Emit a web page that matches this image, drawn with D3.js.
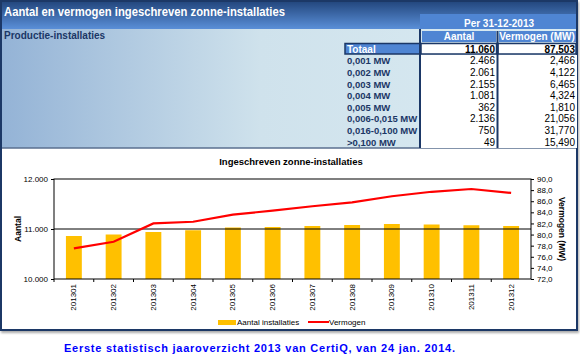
<!DOCTYPE html>
<html>
<head>
<meta charset="utf-8">
<script src="https://cdn.jsdelivr.net/npm/d3@7"></script>
<style>
  body { margin: 0; background: #fff; }
  text { font-family: "Liberation Sans", Arial, sans-serif; }
</style>
</head>
<body>
<div class="chart"></div>
<script>
// table data
var tableLabels = ["0,001 MW", "0,002 MW", "0,003 MW", "0,004 MW", "0,005 MW", "0,006-0,015 MW", "0,016-0,100 MW", ">0,100 MW"];
var tableAantal = ["2.466", "2.061", "2.155", "1.081", "362", "2.136", "750", "49"];
var tableVermogen = ["2,466", "4,122", "6,465", "4,324", "1,810", "21,056", "31,770", "15,490"];
var totalAantal = "11.060";
var totalVermogen = "87,503";

// chart data
var months = ["201301", "201302", "201303", "201304", "201305", "201306", "201307", "201308", "201309", "201310", "201311", "201312"];
var aantal = [10860, 10890, 10940, 10975, 11030, 11040, 11060, 11080, 11100, 11090, 11075, 11060];
var vermogen = [77.5, 78.7, 82.0, 82.3, 83.6, 84.3, 85.1, 85.8, 86.9, 87.7, 88.2, 87.5];
var leftTicks = [10000, 11000, 12000];
var rightTicks = [72, 74, 76, 78, 80, 82, 84, 86, 88, 90];

var navy = "#1b3766";
var svgWidth = 580, svgHeight = 360;

var svg = d3.select(".chart")
  .append("svg")
  .attr("width", svgWidth)
  .attr("height", svgHeight);

var defs = svg.append("defs");
var g1 = defs.append("linearGradient").attr("id", "titleGrad").attr("x1", 0).attr("y1", 0).attr("x2", 0).attr("y2", 1);
g1.append("stop").attr("offset", "0%").attr("stop-color", "#24487f");
g1.append("stop").attr("offset", "100%").attr("stop-color", "#5a8fd8");
var g2 = defs.append("linearGradient").attr("id", "bodyGrad").attr("x1", 0).attr("y1", 0).attr("x2", 1).attr("y2", 0);
g2.append("stop").attr("offset", "0%").attr("stop-color", "#94b3d6");
g2.append("stop").attr("offset", "45%").attr("stop-color", "#cfe2ec");
g2.append("stop").attr("offset", "100%").attr("stop-color", "#daebf2");
var sh = defs.append("filter").attr("id", "shadow");
sh.append("feDropShadow").attr("dx", 1).attr("dy", 2).attr("stdDeviation", 1.2).attr("flood-color", "#888").attr("flood-opacity", 0.7);

// frame + backgrounds
svg.append("rect").attr("x", 1).attr("y", 1).attr("width", 576).attr("height", 329)
  .attr("fill", "#fff").attr("stroke", navy).attr("stroke-width", 2).attr("filter", "url(#shadow)");
svg.append("rect").attr("x", 2).attr("y", 29).attr("width", 574).attr("height", 119).attr("fill", "url(#bodyGrad)");
svg.append("rect").attr("x", 2).attr("y", 2).attr("width", 574).attr("height", 27).attr("fill", "url(#titleGrad)");
svg.append("rect").attr("x", 420).attr("y", 14).attr("width", 156).attr("height", 15).attr("fill", "#4f85d3");
svg.append("line").attr("x1", 2).attr("x2", 576).attr("y1", 148).attr("y2", 148).attr("stroke", "#5a6f8f").attr("stroke-width", 1.5);

svg.append("text").attr("x", 4).attr("y", 16)
  .attr("font-size", 12.5).attr("font-weight", "bold").attr("fill", "#fff")
  .attr("textLength", 281).attr("lengthAdjust", "spacingAndGlyphs")
  .text("Aantal en vermogen ingeschreven zonne-installaties");
svg.append("text").attr("x", 499).attr("y", 27).attr("text-anchor", "middle")
  .attr("font-size", 10).attr("font-weight", "bold").attr("fill", "#fff")
  .text("Per 31-12-2013");
svg.append("text").attr("x", 4).attr("y", 39)
  .attr("font-size", 10).attr("font-weight", "bold").attr("fill", navy)
  .text("Productie-installaties");

// table
var table = svg.append("g");
table.append("rect").attr("x", 420).attr("y", 55).attr("width", 157).attr("height", 93).attr("fill", "#fff");
table.append("rect").attr("x", 422).attr("y", 31).attr("width", 74).attr("height", 11).attr("fill", "#4f85d3");
table.append("rect").attr("x", 499).attr("y", 31).attr("width", 77).attr("height", 11).attr("fill", "#4f85d3");
table.append("text").attr("x", 459).attr("y", 40).attr("text-anchor", "middle")
  .attr("font-size", 10).attr("font-weight", "bold").attr("fill", "#fff").text("Aantal");
table.append("text").attr("x", 537).attr("y", 40).attr("text-anchor", "middle")
  .attr("font-size", 10).attr("font-weight", "bold").attr("fill", "#fff").text("Vermogen (MW)");

table.append("rect").attr("x", 345).attr("y", 43.5).attr("width", 75).attr("height", 10.5)
  .attr("fill", "#4f85d3").attr("stroke", navy).attr("stroke-width", 1.5);
table.append("rect").attr("x", 421).attr("y", 43.5).attr("width", 75.5).attr("height", 10.5)
  .attr("fill", "#fff").attr("stroke", navy).attr("stroke-width", 1.5);
table.append("rect").attr("x", 498).attr("y", 43.5).attr("width", 78).attr("height", 10.5)
  .attr("fill", "#fff").attr("stroke", navy).attr("stroke-width", 1.5);
table.append("text").attr("x", 347).attr("y", 52.5)
  .attr("font-size", 10).attr("font-weight", "bold").attr("fill", "#fff").text("Totaal");
table.append("text").attr("x", 495).attr("y", 52.5).attr("text-anchor", "end")
  .attr("font-size", 10).attr("font-weight", "bold").attr("fill", "#000").text(totalAantal);
table.append("text").attr("x", 575).attr("y", 52.5).attr("text-anchor", "end")
  .attr("font-size", 10).attr("font-weight", "bold").attr("fill", "#000").text(totalVermogen);

table.append("line").attr("x1", 420).attr("x2", 420).attr("y1", 29).attr("y2", 148).attr("stroke", navy).attr("stroke-width", 2);
table.append("line").attr("x1", 497.5).attr("x2", 497.5).attr("y1", 31).attr("y2", 148).attr("stroke", navy).attr("stroke-width", 2);

var rowY = d3.scaleBand().domain(d3.range(tableLabels.length)).range([55, 148]);
var rows = table.selectAll("g.row").data(tableLabels).enter().append("g")
  .attr("transform", (d, i) => `translate(0, ${rowY(i) + rowY.bandwidth() / 2 + 3.5})`);
rows.append("text").attr("x", 347).attr("font-size", 9.5).attr("font-weight", "bold").attr("fill", navy).text(d => d);
rows.append("text").attr("x", 495).attr("text-anchor", "end").attr("font-size", 10).attr("fill", "#000").text((d, i) => tableAantal[i]);
rows.append("text").attr("x", 575).attr("text-anchor", "end").attr("font-size", 10).attr("fill", "#000").text((d, i) => tableVermogen[i]);

// chart
var plot = { left: 54, right: 531, top: 179, bottom: 279 };
var x = d3.scaleBand().domain(months).range([plot.left, plot.right]).paddingInner(0.6).paddingOuter(0.3);
var xb = d3.scaleBand().domain(months).range([plot.left, plot.right]);
var yL = d3.scaleLinear().domain([10000, 12000]).range([plot.bottom, plot.top]);
var yR = d3.scaleLinear().domain([72, 90]).range([plot.bottom, plot.top]);
var nl = d3.formatLocale({ decimal: ",", thousands: ".", grouping: [3], currency: ["€", ""] });
var fmtL = nl.format(",d");
var fmtR = nl.format(".1f");

var chart = svg.append("g");
chart.append("text").attr("x", 291).attr("y", 165).attr("text-anchor", "middle")
  .attr("font-size", 9.5).attr("font-weight", "bold").attr("fill", "#000")
  .text("Ingeschreven zonne-installaties");

chart.selectAll("rect.bar").data(aantal).enter().append("rect")
  .attr("x", (d, i) => x(months[i]))
  .attr("y", d => yL(d))
  .attr("width", x.bandwidth())
  .attr("height", d => plot.bottom - yL(d))
  .attr("fill", "#ffc000");

chart.append("line").attr("x1", plot.left).attr("x2", plot.right)
  .attr("y1", yL(11000)).attr("y2", yL(11000)).attr("stroke", "#000").attr("stroke-width", 1);
chart.append("rect").attr("x", plot.left).attr("y", plot.top)
  .attr("width", plot.right - plot.left).attr("height", plot.bottom - plot.top)
  .attr("fill", "none").attr("stroke", "#000").attr("stroke-width", 1);

var line = d3.line().x((d, i) => xb(months[i]) + xb.bandwidth() / 2).y(d => yR(d));
chart.append("path").datum(vermogen).attr("d", line)
  .attr("fill", "none").attr("stroke", "#ff0000").attr("stroke-width", 2.2);

var leftAxis = d3.axisLeft(yL).tickValues(leftTicks).tickFormat(fmtL).tickSize(3);
var rightAxis = d3.axisRight(yR).tickValues(rightTicks).tickFormat(fmtR).tickSize(3);
var bottomAxis = d3.axisBottom(xb).tickSize(0).tickPadding(4);

var la = chart.append("g").attr("transform", `translate(${plot.left}, 0)`).call(leftAxis);
var ra = chart.append("g").attr("transform", `translate(${plot.right}, 0)`).call(rightAxis);
var ba = chart.append("g").attr("transform", `translate(0, ${plot.bottom})`).call(bottomAxis);
[la, ra, ba].forEach(a => {
  a.select(".domain").remove();
  a.selectAll("line").attr("stroke", "#000");
  a.selectAll("text").attr("font-family", "Liberation Sans, Arial, sans-serif").attr("font-size", 8).attr("fill", "#000");
});
la.selectAll("text").attr("x", -6);
ra.selectAll("text").attr("x", 6);
ba.selectAll("text")
  .attr("transform", "rotate(-90)")
  .attr("text-anchor", "end")
  .attr("x", -5).attr("y", 0).attr("dy", "0.32em");
ba.selectAll(".tick").append("line")
  .attr("x1", -xb.bandwidth() / 2).attr("x2", -xb.bandwidth() / 2)
  .attr("y1", 0).attr("y2", 3).attr("stroke", "#000");

chart.append("text")
  .attr("transform", `translate(21, ${(plot.top + plot.bottom) / 2}) rotate(-90)`)
  .attr("text-anchor", "middle").attr("font-size", 8.5).attr("font-weight", "bold").text("Aantal");
chart.append("text")
  .attr("transform", `translate(559, ${(plot.top + plot.bottom) / 2}) rotate(90)`)
  .attr("text-anchor", "middle").attr("font-size", 8.5).attr("font-weight", "bold").text("Vermogen (MW)");

// legend
var legend = chart.append("g");
legend.append("rect").attr("x", 218).attr("y", 320).attr("width", 18).attr("height", 5).attr("fill", "#ffc000");
legend.append("text").attr("x", 237).attr("y", 325).attr("font-size", 8).text("Aantal installaties");
legend.append("line").attr("x1", 308).attr("x2", 329).attr("y1", 322).attr("y2", 322).attr("stroke", "#ff0000").attr("stroke-width", 2);
legend.append("text").attr("x", 329).attr("y", 325).attr("font-size", 8).text("Vermogen");

// footer
svg.append("text").attr("x", 64).attr("y", 352)
  .attr("font-family", "DejaVu Sans, Verdana, sans-serif")
  .attr("font-size", 11).attr("font-weight", "bold").attr("fill", "#0000ff")
  .attr("textLength", 391).attr("lengthAdjust", "spacing")
  .text("Eerste statistisch jaaroverzicht 2013 van CertiQ, van 24 jan. 2014.");
</script>
</body>
</html>
